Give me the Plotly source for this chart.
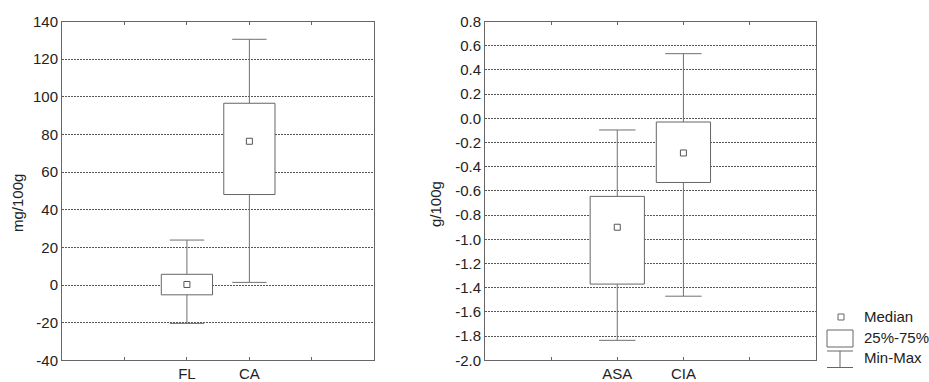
import plotly.graph_objects as go

W, H = 929, 382

# ---- data ----
left_cats = ["FL", "CA"]
left_min = [-20.4, 1.4]
left_q1 = [-5.2, 48.1]
left_median = [0.3, 76.4]
left_q3 = [5.7, 96.6]
left_max = [23.9, 130.6]

right_cats = ["ASA", "CIA"]
right_min = [-1.835, -1.47]
right_q1 = [-1.37, -0.53]
right_median = [-0.90, -0.286]
right_q3 = [-0.645, -0.03]
right_max = [-0.096, 0.535]

left_yticks = list(range(-40, 141, 20))
left_yticklabels = [str(v) for v in left_yticks]
right_yticks = [round(-2.0 + 0.2 * i, 1) for i in range(15)]
right_yticklabels = ["%.1f" % (v + 0.0) for v in right_yticks]

LINE = "#666666"
TXT = "#222222"
FONT = "Liberation Sans, Arial, sans-serif"
BOXW = 0.82
CAPHW = 0.275

fig = go.Figure()


def add_panel(cats, mn, q1, med, q3, mx, xa, ya):
    pos = list(range(len(cats)))
    # whiskers
    wx, wy = [], []
    for i, p in enumerate(pos):
        wx += [p, p, None, p, p, None,
               p - CAPHW, p + CAPHW, None, p - CAPHW, p + CAPHW, None]
        wy += [q3[i], mx[i], None, q1[i], mn[i], None,
               mx[i], mx[i], None, mn[i], mn[i], None]
    fig.add_trace(go.Scatter(x=wx, y=wy, mode="lines", xaxis=xa, yaxis=ya,
                             line=dict(color="#707070", width=1),
                             hoverinfo="skip", showlegend=False))
    # boxes
    fig.add_trace(go.Bar(x=pos, y=[b - a for a, b in zip(q1, q3)], base=q1,
                         width=BOXW, xaxis=xa, yaxis=ya,
                         marker=dict(color="white", line=dict(color=LINE, width=1)),
                         showlegend=False))
    # medians
    fig.add_trace(go.Scatter(x=pos, y=med, mode="markers", xaxis=xa, yaxis=ya,
                             marker=dict(symbol="square-open", size=6,
                                         color="#555555", line=dict(width=1)),
                             showlegend=False))


add_panel(left_cats, left_min, left_q1, left_median, left_q3, left_max, "x", "y")
add_panel(right_cats, right_min, right_q1, right_median, right_q3, right_max, "x2", "y2")

ybot = 1 - 360.3 / H
ytop = 1 - 21.6 / H

common_x = dict(range=[-2, 3], showline=True, linecolor=LINE, linewidth=1,
                mirror="allticks", ticks="inside", ticklen=3, tickcolor=LINE,
                showgrid=False, zeroline=False, automargin=False,
                tickfont=dict(family=FONT, size=15, color=TXT))
common_y = dict(showline=True, linecolor=LINE, linewidth=1, mirror=True,
                ticks="", showgrid=True, gridcolor="#555555", griddash="2px,1px",
                gridwidth=1, zeroline=False, automargin=False,
                tickfont=dict(family=FONT, size=15, color=TXT))

fig.update_layout(
    width=W, height=H,
    margin=dict(l=0, r=0, t=0, b=0),
    paper_bgcolor="white", plot_bgcolor="white",
    barmode="overlay",
    font=dict(family=FONT, color=TXT),
    xaxis=dict(domain=[62 / W, 374.3 / W], anchor="y",
               tickvals=[-1, 0, 1, 2], ticktext=["", left_cats[0], left_cats[1], ""],
               **common_x),
    yaxis=dict(domain=[ybot, ytop], anchor="x", range=[-40, 140],
               tickvals=left_yticks, ticktext=left_yticklabels, **common_y),
    xaxis2=dict(domain=[485 / W, 815.7 / W], anchor="y2",
                tickvals=[-1, 0, 1, 2], ticktext=["", right_cats[0], right_cats[1], ""],
                **common_x),
    yaxis2=dict(domain=[ybot, ytop], anchor="x2", range=[-2.0, 0.8],
                tickvals=right_yticks, ticktext=right_yticklabels, **common_y),
)

# axis titles
fig.add_annotation(text="mg/100g", x=17 / W, y=1 - 203 / H, xref="paper", yref="paper",
                   textangle=-90, showarrow=False, xanchor="center", yanchor="middle",
                   font=dict(family=FONT, size=15, color=TXT))
fig.add_annotation(text="g/100g", x=435 / W, y=1 - 204 / H, xref="paper", yref="paper",
                   textangle=-90, showarrow=False, xanchor="center", yanchor="middle",
                   font=dict(family=FONT, size=15, color=TXT))


# legend (drawn manually)
def px(x):
    return x / W


def py(y):
    return 1 - y / H


shp = dict(xref="paper", yref="paper", line=dict(color=LINE, width=1))
fig.add_shape(type="rect", x0=px(838), x1=px(844), y0=py(314), y1=py(320), **shp)
fig.add_shape(type="rect", x0=px(827), x1=px(853), y0=py(330), y1=py(347), **shp)
fig.add_shape(type="line", x0=px(827), x1=px(853), y0=py(351), y1=py(351), **shp)
fig.add_shape(type="line", x0=px(840), x1=px(840), y0=py(351), y1=py(367.5), **shp)
fig.add_shape(type="line", x0=px(827), x1=px(853), y0=py(367.5), y1=py(367.5), **shp)

for txt, yy in [("Median", 316), ("25%-75%", 337), ("Min-Max", 357)]:
    fig.add_annotation(text=txt, x=px(862), y=py(yy), xref="paper", yref="paper",
                       showarrow=False, xanchor="left", yanchor="middle",
                       font=dict(family=FONT, size=15, color=TXT))

fig.write_html("out.html")
